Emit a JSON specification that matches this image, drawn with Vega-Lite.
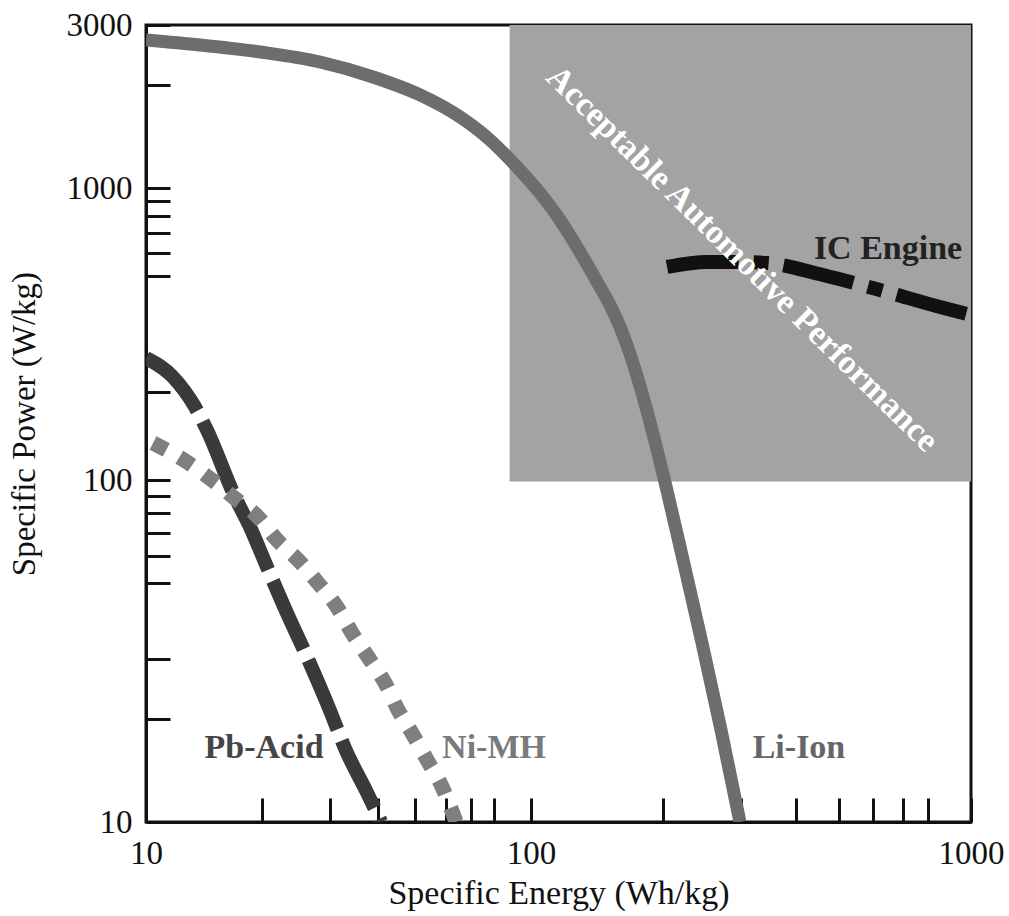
{
  "$schema": "https://vega.github.io/schema/vega-lite/v6.json",
  "width": 825,
  "height": 797,
  "autosize": {"type": "none"},
  "padding": {"left": 146, "top": 25, "right": 38, "bottom": 94},
  "background": "white",
  "config": {
    "view": {"stroke": "#111111", "strokeWidth": 3},
    "axis": {
      "grid": false,
      "domainColor": "#111111",
      "domainWidth": 3,
      "tickColor": "#111111",
      "tickWidth": 3,
      "tickSize": -24,
      "labelFont": "Liberation Serif",
      "labelFontSize": 33,
      "labelColor": "#111111",
      "labelPadding": 39,
      "labelFlush": false,
      "labelOverlap": false,
      "titleFont": "Liberation Serif",
      "titleFontWeight": "normal",
      "titleColor": "#111111"
    }
  },
  "datasets": {
    "region": [{"energy": 88, "energy2": 1000, "power": 99, "power2": 3000}],
    "curves": [
      {"series": "Li-Ion", "energy": 10, "power": 2712},
      {"series": "Li-Ion", "energy": 13.81, "power": 2622},
      {"series": "Li-Ion", "energy": 19.78, "power": 2501},
      {"series": "Li-Ion", "energy": 28.31, "power": 2338},
      {"series": "Li-Ion", "energy": 38.88, "power": 2113},
      {"series": "Li-Ion", "energy": 51.5, "power": 1872},
      {"series": "Li-Ion", "energy": 65.4, "power": 1614},
      {"series": "Li-Ion", "energy": 78.25, "power": 1382},
      {"series": "Li-Ion", "energy": 90.9, "power": 1168},
      {"series": "Li-Ion", "energy": 104.8, "power": 961},
      {"series": "Li-Ion", "energy": 116.4, "power": 777},
      {"series": "Li-Ion", "energy": 129.2, "power": 603.8},
      {"series": "Li-Ion", "energy": 143.5, "power": 458},
      {"series": "Li-Ion", "energy": 151.2, "power": 397.5},
      {"series": "Li-Ion", "energy": 159.4, "power": 334},
      {"series": "Li-Ion", "energy": 167.9, "power": 270.1},
      {"series": "Li-Ion", "energy": 176.9, "power": 209.8},
      {"series": "Li-Ion", "energy": 188.4, "power": 148.3},
      {"series": "Li-Ion", "energy": 201.6, "power": 98.7},
      {"series": "Li-Ion", "energy": 221.6, "power": 58.4},
      {"series": "Li-Ion", "energy": 244.7, "power": 33.4},
      {"series": "Li-Ion", "energy": 270.3, "power": 18.58},
      {"series": "Li-Ion", "energy": 298.5, "power": 10},
      {"series": "Pb-Acid", "energy": 10, "power": 261.7},
      {"series": "Pb-Acid", "energy": 11.75, "power": 225.3},
      {"series": "Pb-Acid", "energy": 13.41, "power": 177.8},
      {"series": "Pb-Acid", "energy": 14.4, "power": 148.3},
      {"series": "Pb-Acid", "energy": 17.03, "power": 89.2},
      {"series": "Pb-Acid", "energy": 18.63, "power": 72.9},
      {"series": "Pb-Acid", "energy": 20.62, "power": 55.7},
      {"series": "Pb-Acid", "energy": 23.24, "power": 40.8},
      {"series": "Pb-Acid", "energy": 26.2, "power": 30.4},
      {"series": "Pb-Acid", "energy": 29.5, "power": 22.3},
      {"series": "Pb-Acid", "energy": 33.3, "power": 15.9},
      {"series": "Pb-Acid", "energy": 37.5, "power": 12.2},
      {"series": "Pb-Acid", "energy": 40.8, "power": 10},
      {"series": "Ni-MH", "energy": 10.43, "power": 133.9},
      {"series": "Ni-MH", "energy": 12.78, "power": 115.2},
      {"series": "Ni-MH", "energy": 14.84, "power": 100},
      {"series": "Ni-MH", "energy": 17.23, "power": 87.4},
      {"series": "Ni-MH", "energy": 19.54, "power": 78.0},
      {"series": "Ni-MH", "energy": 21.89, "power": 66.8},
      {"series": "Ni-MH", "energy": 24.82, "power": 58.4},
      {"series": "Ni-MH", "energy": 27.98, "power": 50.0},
      {"series": "Ni-MH", "energy": 31.35, "power": 42.5},
      {"series": "Ni-MH", "energy": 34.28, "power": 35.7},
      {"series": "Ni-MH", "energy": 38.18, "power": 29.8},
      {"series": "Ni-MH", "energy": 41.77, "power": 25.5},
      {"series": "Ni-MH", "energy": 45.13, "power": 21.3},
      {"series": "Ni-MH", "energy": 49.37, "power": 18.0},
      {"series": "Ni-MH", "energy": 53.7, "power": 15.2},
      {"series": "Ni-MH", "energy": 58.7, "power": 12.7},
      {"series": "Ni-MH", "energy": 63.9, "power": 10},
      {"series": "IC Engine", "energy": 203.8, "power": 536.4},
      {"series": "IC Engine", "energy": 251.2, "power": 557.9},
      {"series": "IC Engine", "energy": 298.5, "power": 557.9},
      {"series": "IC Engine", "energy": 344, "power": 553.5},
      {"series": "IC Engine", "energy": 461, "power": 503.6},
      {"series": "IC Engine", "energy": 621, "power": 447.4},
      {"series": "IC Engine", "energy": 850, "power": 391.3},
      {"series": "IC Engine", "energy": 1000, "power": 367.3}
    ],
    "labels": [
      {"label": "Pb-Acid", "energy": 20.26, "power": 16.46},
      {"label": "Ni-MH", "energy": 80.15, "power": 16.46},
      {"label": "Li-Ion", "energy": 406.5, "power": 16.46},
      {"label": "IC Engine", "energy": 647.8, "power": 618}
    ],
    "region_label": [
      {"label": "Acceptable Automotive Performance", "energy": 301.7, "power": 571}
    ]
  },
  "encoding": {
    "x": {
      "field": "energy",
      "type": "quantitative",
      "scale": {"type": "log", "domain": [10, 100, 1000], "range": [0, 385, 825]},
      "axis": {
        "title": "Specific Energy (Wh/kg)",
        "titleFontSize": 34,
        "titlePadding": 6,
        "values": [10, 20, 30, 40, 50, 60, 70, 80, 100, 200, 300, 400, 500, 600, 700, 800, 1000],
        "labelExpr": "indexof([10, 100, 1000], datum.value) >= 0 ? format(datum.value, 'd') : ''"
      }
    },
    "y": {
      "field": "power",
      "type": "quantitative",
      "scale": {"type": "log", "domain": [10, 100, 1000, 3000], "range": [797, 455, 163, 0]},
      "axis": {
        "title": "Specific Power (W/kg)",
        "titleFontSize": 33,
        "titleX": -105,
        "titleBaseline": "bottom",
        "labelPadding": 38,
        "values": [10, 20, 30, 50, 60, 70, 80, 90, 100, 200, 500, 600, 700, 800, 900, 1000, 2000, 3000],
        "labelExpr": "indexof([10, 100, 1000, 3000], datum.value) >= 0 ? format(datum.value, 'd') : ''"
      }
    }
  },
  "layer": [
    {
      "data": {"name": "region"},
      "mark": {"type": "rect", "color": "#a3a3a3"},
      "encoding": {
        "x2": {"field": "energy2"},
        "y2": {"field": "power2"}
      }
    },
    {
      "data": {"name": "curves"},
      "transform": [{"filter": "datum.series === 'Li-Ion'"}],
      "mark": {"type": "line", "interpolate": "monotone", "stroke": "#6d6d6d", "strokeWidth": 13, "clip": true}
    },
    {
      "data": {"name": "curves"},
      "transform": [{"filter": "datum.series === 'Pb-Acid'"}],
      "mark": {"type": "line", "interpolate": "monotone", "stroke": "#3a3a3a", "strokeWidth": 14, "strokeDash": [75, 12], "clip": true}
    },
    {
      "data": {"name": "curves"},
      "transform": [{"filter": "datum.series === 'Ni-MH'"}],
      "mark": {"type": "line", "interpolate": "monotone", "stroke": "#7f7f7f", "strokeWidth": 15, "strokeDash": [15, 15], "clip": true}
    },
    {
      "data": {"name": "curves"},
      "transform": [{"filter": "datum.series === 'IC Engine'"}],
      "mark": {"type": "line", "interpolate": "monotone", "stroke": "#111111", "strokeWidth": 14, "strokeDash": [72, 15, 15, 15], "clip": true}
    },
    {
      "data": {"name": "region_label"},
      "mark": {"type": "text", "font": "Liberation Serif", "fontWeight": "bold", "fontSize": 34, "color": "white", "angle": 44.5, "align": "center", "baseline": "middle"},
      "encoding": {"text": {"field": "label"}}
    },
    {
      "data": {"name": "labels"},
      "mark": {"type": "text", "font": "Liberation Serif", "fontWeight": "bold", "fontSize": 34, "align": "center", "baseline": "middle"},
      "encoding": {
        "text": {"field": "label"},
        "color": {
          "field": "label",
          "type": "nominal",
          "scale": {"domain": ["Pb-Acid", "Ni-MH", "Li-Ion", "IC Engine"], "range": ["#454545", "#7a7a7a", "#666666", "#222222"]},
          "legend": null
        }
      }
    }
  ]
}
